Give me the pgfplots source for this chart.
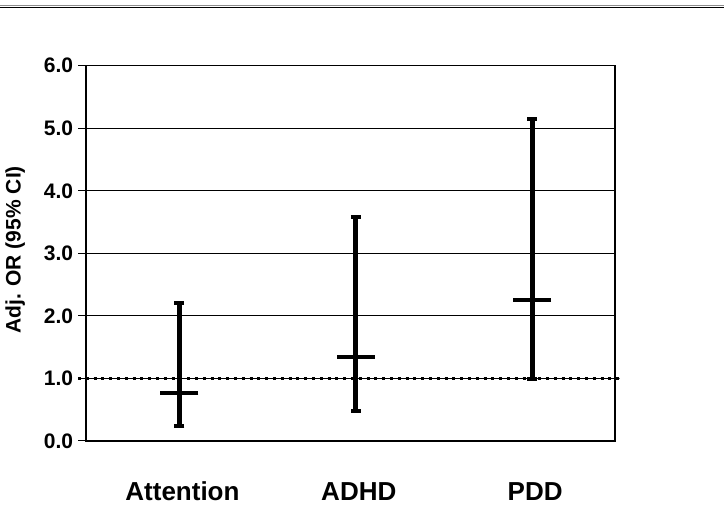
\documentclass[border=0pt]{standalone}
\usepackage{fontspec}
\setmainfont{Liberation Sans}
\usepackage{pgfplots}
\pgfplotsset{compat=1.18}
\begin{document}
\begin{tikzpicture}
\useasboundingbox (0,0) rectangle (724bp,514bp);
\begin{axis}[
  at={(86bp,73bp)}, anchor=south west,
  scale only axis, width=529bp, height=375.3bp,
  xmin=-0.53, xmax=2.47, ymin=0, ymax=6,
  axis line style={line width=1.3bp, black},
  xtick={0,1,2}, xticklabels={Attention,ADHD,PDD},
  xtick style={draw=none},
  xticklabel style={anchor=base, yshift=-51.7bp, xshift=3bp, font=\fontsize{26bp}{30bp}\selectfont\bfseries},
  ytick={0,1,2,3,4,5,6}, yticklabels={0.0,1.0,2.0,3.0,4.0,5.0,6.0},
  ytick pos=left,
  tick align=outside, major tick length=8bp,
  ytick style={line width=1bp, black},
  yticklabel style={anchor=east, inner sep=0pt, xshift=-4.7bp, font=\fontsize{21bp}{25bp}\selectfont\bfseries},
  ymajorgrids, major grid style={line width=1bp, black},
  ylabel={Adj. OR (95\% CI)},
  ylabel style={at={(axis description cs:-0.1238,0.509)}, anchor=base, font=\fontsize{21bp}{25bp}\selectfont\bfseries},
  clip=false,
]
\addplot[black, line width=0.8bp, opacity=0.6] coordinates {(-0.575,1) (2.498,1)};
\addplot[black, line width=3bp, dash pattern=on 3bp off 4.8bp] coordinates {(-0.575,1) (2.498,1)};
\addplot[only marks, black, mark=-, mark size=19bp, mark options={line width=4bp},
  error bars/.cd, y dir=both, y explicit,
  error bar style={line width=4.8bp, black},
  error mark options={rotate=90, line width=4bp, mark size=5bp, black}]
  coordinates {
    (0,0.77) += (0,1.44) -= (0,0.525)
    (1,1.34) += (0,2.24) -= (0,0.86)
    (2,2.25) += (0,2.90) -= (0,1.26)
  };
\end{axis}
\draw[black!45, line width=0.7bp] (0,508.2bp) -- (724bp,508.2bp);
\draw[black, line width=1.4bp] (0,506.7bp) -- (724bp,506.7bp);
\end{tikzpicture}
\end{document}
